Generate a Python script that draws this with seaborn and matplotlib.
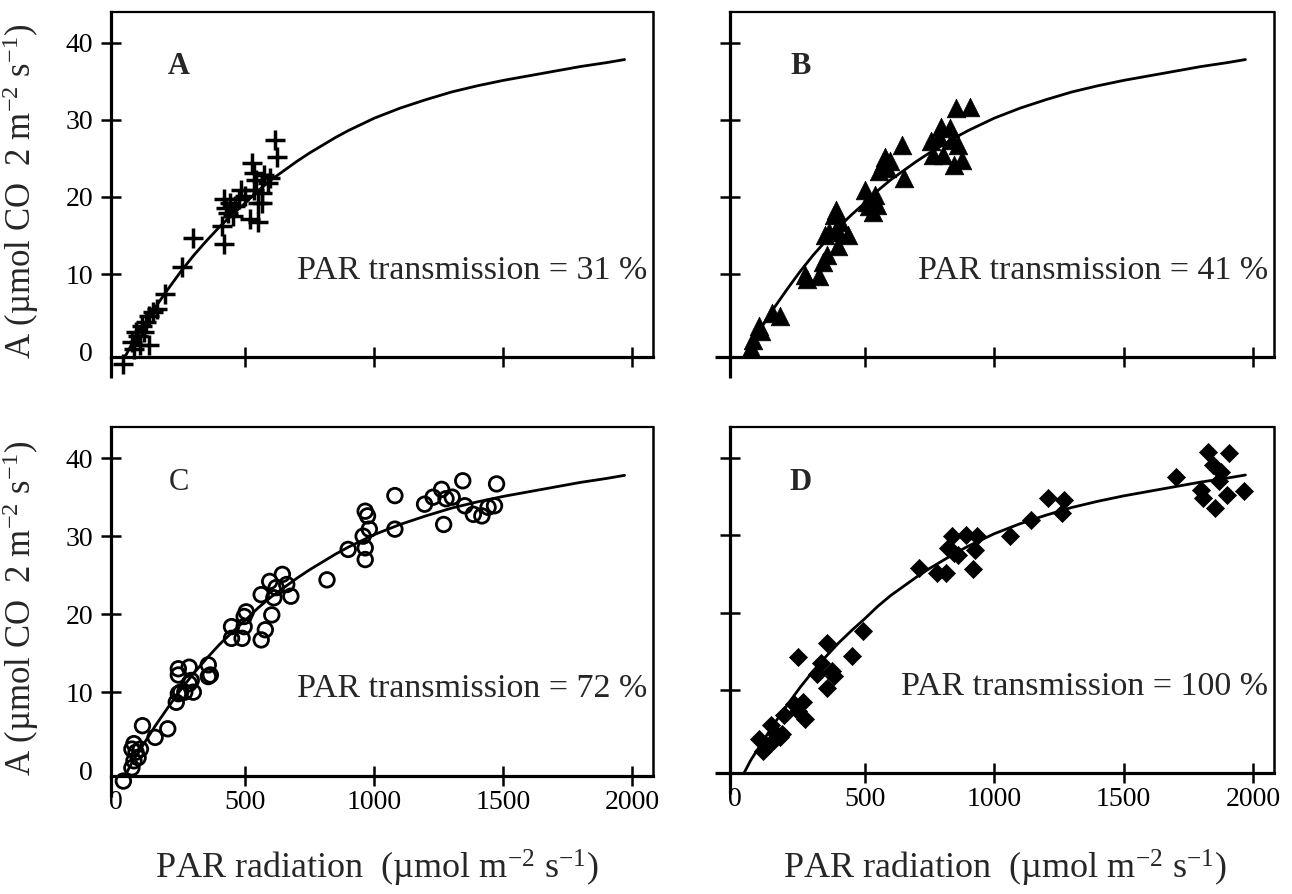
import matplotlib
matplotlib.use("Agg")
import matplotlib.pyplot as plt
import seaborn as sns

# fitted light response curve (same line in all four panels)
curve_par = [35, 60, 100, 150, 200, 250, 300, 350, 400, 450, 500, 550, 600,
             650, 700, 750, 800, 850, 900, 950, 1000, 1100, 1200, 1300, 1400,
             1500, 1600, 1700, 1800, 1900, 1970]
curve_a = [-0.7, 0.9, 3.0, 5.6, 8.0, 10.3, 12.4, 14.3, 16.1, 17.7, 19.2, 20.8,
           22.2, 23.4, 24.6, 25.7, 26.7, 27.7, 28.6, 29.4, 30.2, 31.5, 32.6,
           33.6, 34.4, 35.1, 35.7, 36.3, 36.9, 37.4, 37.8]

# A : PAR transmission 31 %
par_31 = [28, 60, 77, 93, 109, 117, 126, 126, 142, 158, 101, 85, 68, 190, 256,
          297, 411, 419, 419, 427, 435, 443, 452, 460, 476, 484, 500, 517, 525,
          533, 541, 549, 549, 566, 566, 574, 590, 598, 614, 623, 533]
a_31 = [-1.6, 1.2, 2.5, 0.8, 2.5, 3.8, 4.6, 0.8, 5.1, 5.5, 3.3, 2.0, 0.3, 7.4,
        10.9, 14.7, 16.2, 13.9, 19.7, 18.6, 17.9, 19.2, 17.5, 18.8, 19.7, 20.9,
        20.1, 17.1, 24.4, 23.1, 22.2, 19.2, 16.7, 19.2, 20.5, 22.9, 21.8, 22.4,
        27.4, 25.2, 20.9]

# B : PAR transmission 41 %
par_41 = [61, 69, 93, 101, 141, 173, 268, 276, 324, 340, 348, 364, 380, 388,
          396, 404, 436, 396, 356, 500, 508, 516, 532, 540, 548, 556, 572, 580,
          588, 596, 645, 652, 756, 764, 796, 804, 828, 836, 844, 852, 860, 876,
          908, 788]
a_41 = [0.4, 1.5, 3.2, 2.6, 5.0, 4.5, 9.9, 9.3, 9.7, 11.6, 15.1, 15.5, 17.7,
        18.3, 13.6, 16.8, 15.1, 15.5, 12.5, 20.9, 19.4, 18.8, 18.1, 20.3, 19.0,
        23.3, 24.4, 25.2, 23.7, 24.6, 26.7, 22.4, 27.2, 25.4, 29.1, 25.4, 28.9,
        27.4, 24.1, 31.5, 26.7, 24.8, 31.7, 27.8]

# C : PAR transmission 72 %
par_72 = [28, 61, 69, 85, 61, 69, 94, 77, 102, 151, 200, 233, 241, 241, 241,
          250, 266, 283, 283, 299, 291, 357, 365, 357, 447, 447, 488, 496, 496,
          504, 562, 578, 562, 595, 603, 611, 620, 644, 661, 677, 817, 899, 957,
          965, 974, 965, 965, 981, 1080, 1080, 1195, 1228, 1261, 1269, 1278,
          1302, 1343, 1351, 1384, 1417, 1441, 1466, 1474]
a_72 = [-1.4, 0.3, 1.2, 1.6, 2.7, 3.4, 2.7, 2.3, 5.7, 4.2, 5.3, 8.7, 9.8, 12.2,
        13.0, 10.0, 10.0, 13.2, 11.1, 10.0, 11.5, 13.5, 12.2, 12.0, 18.4, 16.9,
        16.9, 18.4, 19.7, 20.3, 16.7, 18.0, 22.5, 24.2, 19.9, 22.1, 23.4, 25.1,
        23.8, 22.3, 24.4, 28.3, 30.0, 33.2, 32.6, 28.5, 27.0, 30.9, 30.9, 35.2,
        34.1, 35.0, 36.0, 31.5, 34.8, 35.0, 37.1, 33.9, 32.8, 32.6, 33.7, 33.9,
        36.7]

# D : PAR transmission 100 %
par_100 = [91, 107, 124, 140, 148, 156, 172, 180, 188, 228, 244, 244, 260, 268,
           316, 332, 356, 356, 372, 380, 452, 492, 709, 781, 813, 821, 837, 845,
           861, 893, 925, 933, 917, 1062, 1142, 1206, 1263, 1271, 1703, 1799,
           1807, 1827, 1843, 1851, 1867, 1875, 1899, 1907, 1963]
a_100 = [3.7, 2.1, 2.8, 5.4, 3.4, 4.3, 3.9, 4.3, 6.7, 8.2, 14.2, 7.3, 8.4, 6.2,
         12.0, 13.5, 16.1, 10.3, 12.5, 11.8, 14.4, 17.6, 25.8, 25.1, 25.1, 28.4,
         29.9, 27.7, 27.5, 30.1, 28.1, 29.9, 25.6, 29.9, 32.0, 34.8, 32.9, 34.6,
         37.6, 35.9, 34.8, 40.8, 39.1, 33.5, 37.0, 38.2, 35.2, 40.6, 35.7]

x_ticks = [0, 500, 1000, 1500, 2000]
y_ticks = [0, 10, 20, 30, 40]

sns.set_theme(style="ticks")
plt.rcParams["font.family"] = ["Liberation Serif", "DejaVu Serif"]
plt.rcParams["mathtext.fontset"] = "custom"
plt.rcParams["mathtext.rm"] = "Liberation Serif"
plt.rcParams["mathtext.it"] = "Liberation Serif:italic"

fig = plt.figure(figsize=(12.92, 8.94), dpi=100)

panels = [
    ("A", par_31, a_31, "31", [0.0859, 0.6007, 0.4195, 0.3862], True, True),
    ("B", par_41, a_41, "41", [0.5650, 0.6007, 0.4210, 0.3862], True, True),
    ("C", par_72, a_72, "72", [0.0859, 0.1320, 0.4195, 0.3904], False, False),
    ("D", par_100, a_100, "100", [0.5650, 0.1353, 0.4210, 0.3870], True, False),
]

ylab = "A (µmol CO  2 m$^{-2}$ s$^{-1}$)"
xlab = "PAR radiation  (µmol m$^{-2}$ s$^{-1}$)"

for letter, par, a, trans, rect, bold, top in panels:
    ax = fig.add_axes(rect)
    left_col = letter in ("A", "C")

    if letter == "A":
        sns.scatterplot(x=par, y=a, marker="+", s=200, color="black",
                        linewidth=2.5, ax=ax, clip_on=False)
    elif letter == "B":
        sns.scatterplot(x=par, y=a, marker="^", s=180, color="black",
                        edgecolor="black", linewidth=0.5, ax=ax, clip_on=False)
    elif letter == "C":
        sns.scatterplot(x=par, y=a, marker="o", s=110, facecolors="none",
                        edgecolor="black", linewidth=2.0, ax=ax, clip_on=False)
    else:
        sns.scatterplot(x=par, y=a, marker="D", s=85, color="black",
                        edgecolor="black", linewidth=0.5, ax=ax, clip_on=False)

    sns.lineplot(x=curve_par, y=curve_a, color="black", linewidth=2.0,
                 errorbar=None, ax=ax)

    ax.set_xlim(-20, 2080)
    ax.set_ylim(-0.75, 44)
    ax.set_xticks(x_ticks)
    ax.set_yticks(y_ticks)
    ax.tick_params(direction="inout", length=14, width=1.8, colors="black",
                   labelsize=20)
    ax.tick_params(axis="x", pad=3)
    ax.tick_params(axis="y", pad=6)
    ax.xaxis.get_major_ticks()[0].tick1line.set_visible(False)
    ax.yaxis.get_major_ticks()[0].tick1line.set_visible(False)

    for side in ax.spines:
        ax.spines[side].set_color("black")
    ax.spines["left"].set_linewidth(2.3)
    ax.spines["bottom"].set_linewidth(2.3)
    ax.spines["top"].set_linewidth(1.6)
    ax.spines["right"].set_linewidth(1.8)

    # the left axis runs on below the x axis, and on the right column the x axis starts left of it
    ax.plot([0, 0], [-0.06, 0], transform=ax.transAxes, color="black",
            linewidth=2.3, clip_on=False, solid_capstyle="butt")
    if not left_col:
        ax.plot([-0.028, 0], [0, 0], transform=ax.transAxes, color="black",
                linewidth=2.3, clip_on=False, solid_capstyle="butt")

    if top:
        ax.set_xticklabels([])
        ax.set_xlabel("")
    else:
        ax.set_xlabel(xlab, fontsize=26)
        if left_col:
            ax.xaxis.set_label_coords(0.49, -0.205)
        else:
            ax.xaxis.set_label_coords(0.505, -0.215)

    if left_col:
        ax.set_ylabel(ylab, fontsize=25)
        ax.yaxis.set_label_coords(-0.13, 0.48)
    else:
        ax.set_yticklabels([])
        ax.set_ylabel("")

    ax.text(0.125 if left_col else 0.13, 0.84, letter, transform=ax.transAxes,
            fontsize=22, fontweight="bold" if bold else "normal",
            ha="center", va="center")
    ax.text(0.99, 0.25, f"PAR transmission = {trans} %", transform=ax.transAxes,
            fontsize=24.5, ha="right", va="center")

fig.savefig("out.png", dpi=100)
